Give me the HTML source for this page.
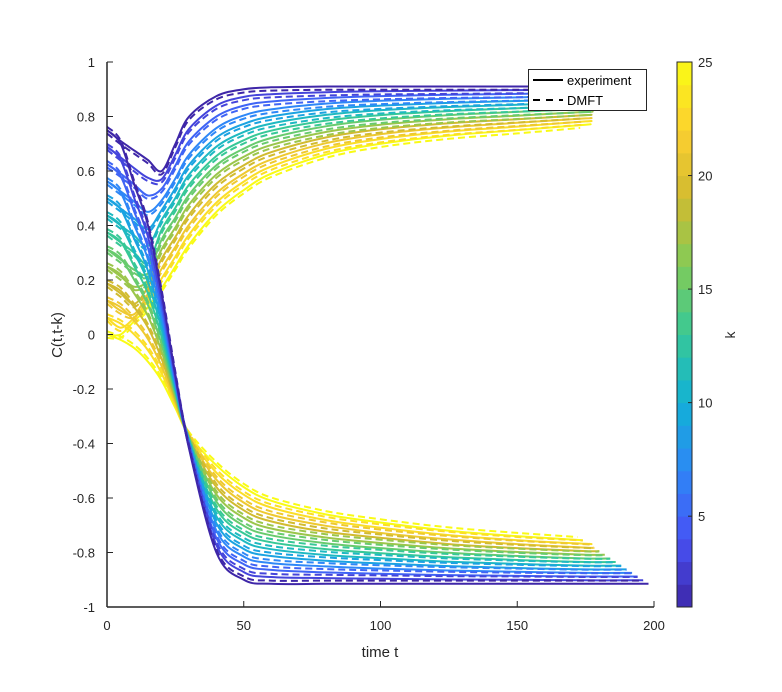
<!DOCTYPE html>
<html><head><meta charset="utf-8"><style>
html,body{margin:0;padding:0;background:#fff;}
svg{display:block;font-family:"Liberation Sans",sans-serif;}
</style></head><body>
<svg id="chart" width="782" height="692" viewBox="0 0 782 692" xmlns="http://www.w3.org/2000/svg">
<g id="curves"></g>
<g id="axes"></g>
<g id="cbar"></g>
<g>
<rect x="528.5" y="69.5" width="118" height="41" fill="#fff" stroke="#262626" stroke-width="1"/>
<line x1="533" y1="80" x2="563" y2="80" stroke="#000" stroke-width="2"/>
<text x="567" y="85" font-size="13" fill="#000">experiment</text>
<line x1="533" y1="100" x2="563" y2="100" stroke="#000" stroke-width="2" stroke-dasharray="7,6"/>
<text x="567" y="105" font-size="13" fill="#000">DMFT</text>
</g>
<text x="380" y="657" font-size="15" text-anchor="middle" fill="#262626">time t</text>
<text transform="translate(62,335) rotate(-90)" font-size="15" text-anchor="middle" fill="#262626">C(t,t-k)</text>
<text transform="translate(735,335) rotate(-90)" font-size="14" text-anchor="middle" fill="#262626">k</text>
</svg>
<script>
const times=[0,5,10,15,20,25,30,40,50,60,80,100,125,150,175];
const kValues=[1,3,5,7,9,11,13,15,17,19,21,23,25];
const upper0=[.75,.71,.675,.64,.60,.70,.80,.875,.90,.907,.91,.91,.91,.91,.91];
const upper1=[.69,.65,.61,.575,.57,.66,.755,.84,.872,.882,.889,.893,.895,.897,.898];
const upper2=[.625,.59,.55,.51,.535,.62,.71,.80,.84,.855,.868,.875,.88,.883,.887];
const upper3=[.5625,.525,.4875,.45,.4925,.5725,.66,.7575,.804,.826,.8475,.8575,.865,.87,.875];
const upper4=[.5,.4625,.425,.3875,.457,.537,.623,.723,.773,.80,.827,.84,.85,.857,.863];
const upper5=[.4375,.4,.3625,.325,.421,.501,.587,.689,.743,.774,.806,.823,.835,.843,.852];
const upper6=[.375,.3375,.3,.2625,.385,.465,.55,.655,.713,.748,.785,.805,.82,.83,.84];
const upper7=[.3125,.275,.2375,.225,.349,.429,.513,.621,.682,.721,.764,.788,.805,.817,.828];
const upper8=[.25,.2125,.175,.2,.313,.393,.477,.587,.652,.695,.743,.77,.79,.803,.817];
const upper9=[.1875,.15,.1125,.175,.278,.358,.44,.553,.621,.669,.723,.753,.775,.79,.805];
const upper10=[.125,.0875,.075,.15,.242,.322,.403,.518,.591,.642,.702,.735,.76,.777,.793];
const upper11=[.0625,.025,.0625,.125,.206,.286,.367,.484,.561,.616,.681,.717,.745,.763,.782];
const upper12=[0,0,.05,.1,.17,.25,.33,.45,.53,.59,.66,.70,.73,.75,.77];
const lower0=[.75,.7,.55,.4,.15,-.15,-.42,-.8,-.9,-.915,-.915,-.915,-.915,-.915,-.915];
const lower1=[.6875,.64,.5,.358,.123,-.16,-.416,-.773,-.872,-.89,-.894,-.896,-.899,-.9,-.902];
const lower2=[.625,.58,.45,.317,.097,-.17,-.412,-.747,-.843,-.864,-.873,-.878,-.883,-.886,-.888];
const lower3=[.5625,.52,.4,.275,.07,-.18,-.4075,-.72,-.815,-.839,-.851,-.859,-.866,-.871,-.875];
const lower4=[.5,.46,.35,.233,.043,-.19,-.403,-.693,-.787,-.813,-.83,-.84,-.85,-.857,-.862];
const lower5=[.4375,.4,.3,.192,.017,-.2,-.399,-.667,-.758,-.788,-.809,-.821,-.834,-.842,-.848];
const lower6=[.375,.34,.25,.15,-.01,-.21,-.395,-.64,-.73,-.7625,-.7875,-.8025,-.8175,-.8275,-.835];
const lower7=[.3125,.28,.2,.108,-.037,-.22,-.391,-.613,-.702,-.737,-.766,-.784,-.801,-.813,-.822];
const lower8=[.25,.22,.15,.067,-.063,-.23,-.387,-.587,-.673,-.712,-.745,-.765,-.785,-.798,-.808];
const lower9=[.1875,.16,.1,.025,-.09,-.24,-.3825,-.56,-.645,-.686,-.724,-.746,-.769,-.784,-.795];
const lower10=[.125,.1,.05,-.017,-.117,-.25,-.378,-.533,-.617,-.661,-.702,-.728,-.752,-.769,-.782];
const lower11=[.0625,.04,0,-.058,-.143,-.26,-.374,-.507,-.588,-.635,-.681,-.709,-.736,-.755,-.768];
const lower12=[0,-.02,-.05,-.1,-.17,-.27,-.37,-.48,-.56,-.61,-.66,-.69,-.72,-.74,-.755];
const upperEnd=[178,178,178,178,178,177,177,177,177,176,176,176,175];
const lowerEnd=[198,196,194,192,190,188,186,184,182,180,178,176,174];
const xTicks=[0,50,100,150,200];
const yTicks=[-1,-0.8,-0.6,-0.4,-0.2,0,0.2,0.4,0.6,0.8,1];
const cTicks=[5,10,15,20,25];

const uppers=[upper0,upper1,upper2,upper3,upper4,upper5,upper6,upper7,upper8,upper9,upper10,upper11,upper12];
const lowers=[lower0,lower1,lower2,lower3,lower4,lower5,lower6,lower7,lower8,lower9,lower10,lower11,lower12];
const X0=107,X1=654,Y0=607,Y1=62;
function xs(t){return X0+(t)/200*(X1-X0);}
function ys(v){return Y0-(v+1)/2*(Y0-Y1);}
function ks(k){return Y0-(k-1)/24*(Y0-Y1);}
const stops=[[0,[.2422,.1504,.6603]],[.125,[.2810,.3228,.9579]],[.25,[.1786,.5289,.9682]],[.375,[.0689,.6948,.8394]],[.5,[.2161,.7843,.5923]],[.625,[.5044,.7993,.3480]],[.75,[.8185,.7327,.1882]],[.875,[.9892,.8136,.1885]],[1,[.9769,.9839,.0805]]];
function parula(f){f=Math.max(0,Math.min(1,f));for(let i=0;i<stops.length-1;i++){const a=stops[i],b=stops[i+1];if(f<=b[0]){const u=(f-a[0])/(b[0]-a[0]);const c=a[1].map((v,j)=>Math.round(255*(v+(b[1][j]-v)*u)));return `rgb(${c[0]},${c[1]},${c[2]})`;}}return 'rgb(249,251,21)';}
const NS='http://www.w3.org/2000/svg';
function mk(tag,attrs,parent){const e=document.createElementNS(NS,tag);for(const a in attrs)e.setAttribute(a,attrs[a]);parent.appendChild(e);return e;}
const cg=document.getElementById('curves');
function pathFor(vals,end,off){
  const p=[];
  for(let j=0;j<times.length;j++){if(times[j]>end)break;p.push([xs(times[j]),ys(vals[j]+off)]);}
  p.push([xs(end),ys(vals[vals.length-1]+off)]);
  let d='M'+p[0][0].toFixed(1)+','+p[0][1].toFixed(1);
  for(let i=0;i<p.length-1;i++){
    const p0=p[Math.max(0,i-1)],p1=p[i],p2=p[i+1],p3=p[Math.min(p.length-1,i+2)];
    const c1=[p1[0]+(p2[0]-p0[0])/6,p1[1]+(p2[1]-p0[1])/6];
    const c2=[p2[0]-(p3[0]-p1[0])/6,p2[1]-(p3[1]-p1[1])/6];
    d+='C'+c1[0].toFixed(1)+','+c1[1].toFixed(1)+' '+c2[0].toFixed(1)+','+c2[1].toFixed(1)+' '+p2[0].toFixed(1)+','+p2[1].toFixed(1);
  }
  return d;
}
for(let i=kValues.length-1;i>=0;i--){
  const col=parula((kValues[i]-1)/24);
  const a=mk('path',{d:pathFor(uppers[i],upperEnd[i],0),fill:'none',stroke:col,'stroke-width':2,'stroke-linejoin':'round'},cg);
  
  
  const b=mk('path',{d:pathFor(uppers[i],upperEnd[i]-2,-0.012),fill:'none',stroke:col,'stroke-width':2,'stroke-dasharray':'7,4'},cg);
  
  
  const c=mk('path',{d:pathFor(lowers[i],lowerEnd[i],0),fill:'none',stroke:col,'stroke-width':2,'stroke-linejoin':'round'},cg);
  
  
  const e=mk('path',{d:pathFor(lowers[i],lowerEnd[i]-2,0.012),fill:'none',stroke:col,'stroke-width':2,'stroke-dasharray':'7,4'},cg);
  
  
}
const ag=document.getElementById('axes');
mk('line',{x1:X0,y1:Y1,x2:X0,y2:Y0,stroke:'#262626','stroke-width':1.5},ag);
mk('line',{x1:X0,y1:Y0,x2:X1,y2:Y0,stroke:'#262626','stroke-width':1.5},ag);
xTicks.forEach(t=>{
  mk('line',{x1:xs(t),y1:Y0,x2:xs(t),y2:Y0-6,stroke:'#262626','stroke-width':1},ag);
  const tx=mk('text',{x:xs(t),y:Y0+23,'font-size':13,'text-anchor':'middle',fill:'#262626'},ag);
  tx.textContent=t;
  
  
});
yTicks.forEach(v=>{
  mk('line',{x1:X0,y1:ys(v),x2:X0+6,y2:ys(v),stroke:'#262626','stroke-width':1},ag);
  const tx=mk('text',{x:X0-12,y:ys(v)+5,'font-size':13,'text-anchor':'end',fill:'#262626'},ag);
  tx.textContent=(Math.round(v*10)/10).toString();
  
  
});
const bg=document.getElementById('cbar');
for(let k=1;k<25;k++){
  const r=mk('rect',{x:677,y:ks(k+1),width:15,height:ks(k)-ks(k+1)+0.5,fill:parula((k-0.5)/24)},bg);
  
  
}
mk('rect',{x:677,y:Y1,width:15,height:Y0-Y1,fill:'none',stroke:'#262626','stroke-width':1},bg);
cTicks.forEach(k=>{
  mk('line',{x1:688,y1:ks(k),x2:692,y2:ks(k),stroke:'#262626','stroke-width':1},bg);
  const tx=mk('text',{x:698,y:ks(k)+5,'font-size':13,fill:'#262626'},bg);
  tx.textContent=k;
  
  
});
</script>
</body></html>
